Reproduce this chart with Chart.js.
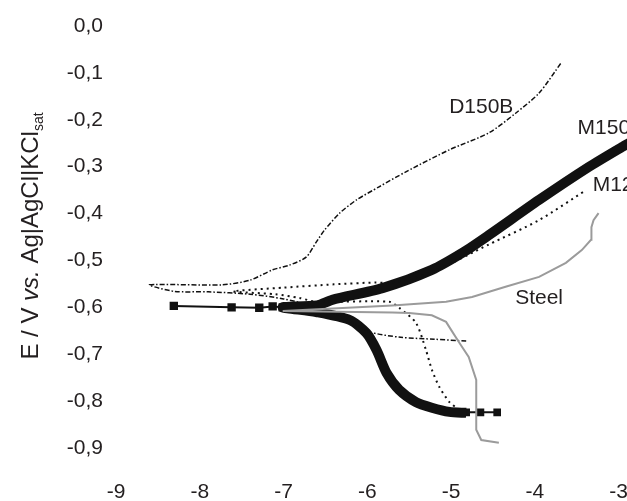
<!DOCTYPE html>
<html>
<head>
<meta charset="utf-8">
<script src="https://cdn.jsdelivr.net/npm/chart.js@4.4.1/dist/chart.umd.min.js"></script>
<style>
  html, body { margin: 0; padding: 0; background: #fff; }
  #wrap { width: 627px; height: 501px; overflow: hidden; position: relative; }
  canvas { display: block; }
</style>
</head>
<body>
<div id="wrap"><canvas id="chart" width="660" height="501"></canvas></div>
<script>
// log(i) values and potentials
const xTickValues = [-9, -8, -7, -6, -5, -4, -3];
const yTickValues = [0, -0.1, -0.2, -0.3, -0.4, -0.5, -0.6, -0.7, -0.8, -0.9];

// M150 - thick part (cathodic end -> Ecorr -> anodic end)
const m150LogI = [-4.82, -5.02, -5.23, -5.42, -5.62, -5.77, -5.89, -6.01, -6.21, -6.61, -7.01,
                  -6.60, -6.42, -5.82, -5.23, -4.85, -4.55, -3.95, -3.36, -2.96, -2.85];
const m150E    = [-0.825, -0.823, -0.814, -0.802, -0.776, -0.740, -0.691, -0.655, -0.627, -0.610, -0.600,
                  -0.596, -0.584, -0.559, -0.520, -0.482, -0.446, -0.371, -0.301, -0.258, -0.247];
// M150 - sparse points with square markers
const m150LeftLogI = [-8.31, -7.62, -7.29, -7.13, -7.01];
const m150LeftE    = [-0.597, -0.600, -0.601, -0.598, -0.600];
const m150RightLogI = [-4.82, -4.65, -4.45];
const m150RightE    = [-0.824, -0.824, -0.824];

// M120 - dotted
const m120LogI = [-4.90, -5.02, -5.14, -5.23, -5.30, -5.42, -5.62, -5.74, -6.61, -6.81, -7.10, -7.60,
                  -7.00, -6.40, -5.90, -5.74, -5.40, -5.14, -4.55, -3.95, -3.39];
const m120E    = [-0.819, -0.802, -0.770, -0.733, -0.691, -0.633, -0.601, -0.588, -0.588, -0.580, -0.572, -0.566,
                  -0.558, -0.551, -0.547, -0.548, -0.535, -0.518, -0.466, -0.414, -0.350];

// D150B - dash-dot
const d150bLogI = [-4.82, -5.20, -5.60, -5.98, -6.30, -6.70, -7.00, -7.40, -7.90, -8.30, -8.60,
                   -7.73, -7.40, -7.13, -6.93, -6.73, -6.61, -6.51, -6.33, -6.13, -5.86, -5.54,
                   -5.02, -4.55, -4.23, -3.95, -3.68];
const d150bE    = [-0.672, -0.668, -0.664, -0.652, -0.620, -0.595, -0.582, -0.572, -0.567, -0.566, -0.552,
                   -0.552, -0.542, -0.520, -0.510, -0.493, -0.461, -0.435, -0.399, -0.371, -0.343, -0.311,
                   -0.264, -0.228, -0.186, -0.143, -0.077];

// Steel - grey
const steelLogI = [-4.43, -4.64, -4.70, -4.70, -4.79, -4.90, -5.00, -5.06, -5.23, -5.50, -5.70, -7.01,
                   -5.70, -5.06, -4.75, -4.35, -3.95, -3.63, -3.44, -3.33, -3.32, -3.33, -3.30, -3.24];
const steelE    = [-0.889, -0.883, -0.861, -0.755, -0.706, -0.676, -0.648, -0.631, -0.617, -0.612, -0.611, -0.608,
                   -0.596, -0.588, -0.578, -0.556, -0.535, -0.505, -0.478, -0.456, -0.441, -0.429, -0.414, -0.399];

// curve labels
const labelTexts = ['D150B', 'M150', 'M120', 'Steel'];
const labelLogI  = [-4.64, -3.49, -3.31, -3.95];
const labelE     = [-0.173, -0.217, -0.339, -0.580];

const FONT = "'Liberation Sans', Arial, Helvetica, sans-serif";
const TEXT = '#231f20';

const zip = (xs, ys) => xs.map((x, i) => ({ x: x, y: ys[i] }));

const curveLabels = {
    id: 'curveLabels',
    afterDatasetsDraw(chart) {
        const { ctx, scales: { x, y } } = chart;
        ctx.save();
        ctx.fillStyle = TEXT;
        ctx.font = '21px ' + FONT;
        ctx.textBaseline = 'middle';
        labelTexts.forEach((t, i) => {
            let px = x.getPixelForValue(labelLogI[i]);
            const py = y.getPixelForValue(labelE[i]);
            // D150B and Steel are centred, M labels start at their value
            if (t === 'D150B' || t === 'Steel') px -= ctx.measureText(t).width / 2;
            ctx.fillText(t, px, py);
        });
        ctx.restore();
    }
};

// y title with italic "vs." and subscript "sat"
const yTitle = {
    id: 'yTitle',
    afterDraw(chart) {
        const ctx = chart.ctx;
        const parts = [
            { t: 'E / V ', f: '24px ' + FONT, dy: 0 },
            { t: 'vs.', f: 'italic 24px ' + FONT, dy: 0 },
            { t: ' Ag|AgCl|KCl', f: '24px ' + FONT, dy: 0 },
            { t: 'sat', f: '14px ' + FONT, dy: 5 }
        ];
        ctx.save();
        let w = 0;
        parts.forEach(p => { ctx.font = p.f; p.w = ctx.measureText(p.t).width; w += p.w; });
        ctx.translate(38, 236);
        ctx.rotate(-Math.PI / 2);
        ctx.fillStyle = TEXT;
        ctx.textBaseline = 'alphabetic';
        let cx = -w / 2;
        parts.forEach(p => {
            ctx.font = p.f;
            ctx.fillText(p.t, cx, p.dy);
            cx += p.w;
        });
        ctx.restore();
    }
};

const chart = new Chart(document.getElementById('chart'), {
    type: 'line',
    data: {
        datasets: [
            {
                label: 'Steel',
                data: zip(steelLogI, steelE),
                borderColor: '#9b9b9b',
                borderWidth: 2,
                pointRadius: 0,
                tension: 0,
                order: 0
            },
            {
                label: 'M120',
                data: zip(m120LogI, m120E),
                borderColor: '#111',
                borderWidth: 2,
                borderDash: [2, 4],
                pointRadius: 0,
                tension: 0.25,
                order: 1
            },
            {
                label: 'D150B',
                data: zip(d150bLogI, d150bE),
                borderColor: '#111',
                borderWidth: 1.5,
                borderDash: [5, 2, 1.5, 2],
                pointRadius: 0,
                tension: 0.25,
                order: 2
            },
            {
                label: 'M150',
                data: zip(m150LogI, m150E),
                borderColor: '#111',
                borderWidth: 10,
                pointRadius: 0,
                tension: 0.25,
                clip: false,
                order: 3
            },
            {
                label: 'M150 tail',
                data: zip(m150LeftLogI, m150LeftE),
                borderColor: '#111',
                backgroundColor: '#111',
                borderWidth: 2,
                pointStyle: 'rect',
                pointRadius: 4.5,
                tension: 0,
                order: 3
            },
            {
                label: 'M150 end',
                data: zip(m150RightLogI, m150RightE),
                borderColor: '#111',
                backgroundColor: '#111',
                borderWidth: 2,
                pointStyle: 'rect',
                pointRadius: 4,
                tension: 0,
                order: 3
            }
        ]
    },
    options: {
        responsive: false,
        devicePixelRatio: 1,
        animation: false,
        layout: { padding: { top: 26, right: 40, left: 0, bottom: 0 } },
        plugins: {
            legend: { display: false },
            tooltip: { enabled: false }
        },
        scales: {
            x: {
                type: 'linear',
                min: -9,
                max: -3,
                border: { display: false },
                grid: { display: false, drawTicks: false },
                afterFit: s => { s.height = 53; },
                afterBuildTicks: s => { s.ticks = xTickValues.map(v => ({ value: v })); },
                ticks: {
                    padding: 32,
                    color: TEXT,
                    font: { family: FONT, size: 21 },
                    callback: v => String(v)
                }
            },
            y: {
                type: 'linear',
                min: -0.9,
                max: 0,
                border: { display: false },
                grid: { display: false, drawTicks: false },
                afterFit: s => { s.width = 116; },
                afterBuildTicks: s => { s.ticks = yTickValues.map(v => ({ value: v })); },
                ticks: {
                    padding: 13,
                    color: TEXT,
                    font: { family: FONT, size: 21 },
                    callback: v => v.toFixed(1).replace('.', ',')
                }
            }
        }
    },
    plugins: [curveLabels, yTitle]
});
</script>
</body>
</html>
